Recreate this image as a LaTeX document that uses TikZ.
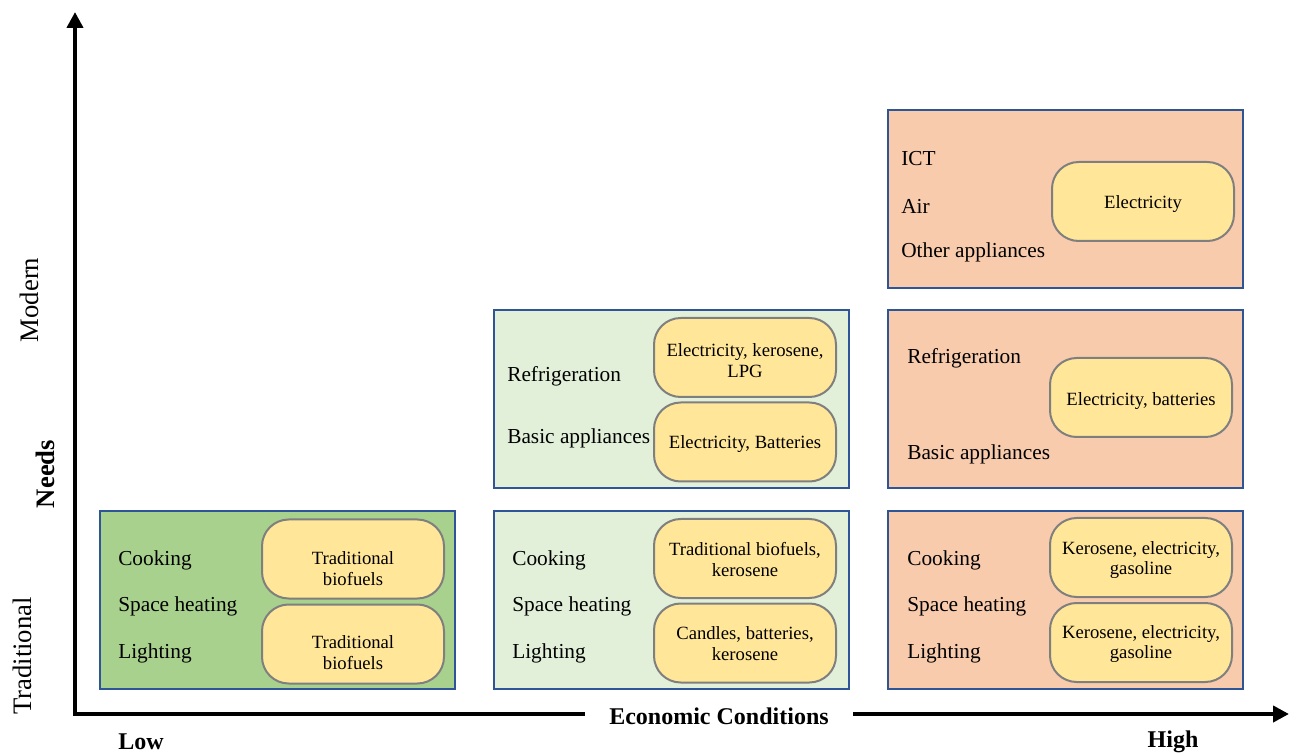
\documentclass[tikz,border=0pt]{standalone}
\usepackage{fontspec}
\setmainfont{Liberation Serif}
\usetikzlibrary{arrows.meta}
\definecolor{boxblue}{HTML}{2F5597}
\definecolor{lowgreen}{HTML}{A9D18E}
\definecolor{palegreen}{HTML}{E2F0D9}
\definecolor{salmon}{HTML}{F8CBAD}
\definecolor{fuelyellow}{HTML}{FFE699}
\definecolor{fuelgray}{HTML}{7F7F7F}
\begin{document}
\begin{tikzpicture}[x=0.75pt,y=-0.75pt,
  panel/.style={draw=boxblue, line width=1.5pt, minimum width=266.25pt,
    minimum height=133.5pt, inner sep=0pt},
  fuel/.style={draw=fuelgray, fill=fuelyellow, line width=1.5pt,
    rounded corners=20pt, minimum width=136.5pt, minimum height=59.25pt,
    inner sep=0pt},
  fueltext/.style={align=center, inner sep=0pt, font=\fontsize{14}{15.5}\selectfont},
  need/.style={anchor=west, inner sep=0pt, font=\fontsize{16}{18}\selectfont},
  axislabel/.style={font=\fontsize{18}{20}\selectfont\bfseries, inner sep=0pt},
  sidelabel/.style={rotate=90, inner sep=0pt, font=\fontsize{20}{22}\selectfont},
  axis/.style={line width=3pt, line cap=rect, -{Triangle[length=12pt,width=12pt]}}]
\useasboundingbox (0,0) rectangle (1300,755);

% axes
\coordinate (origin) at (75,714);
\coordinate (ytop) at (75,12);
\coordinate (xend) at (1289,714);
\draw[axis] (origin) -- (ytop);
\draw[axis] (origin) -- (xend);
\node[axislabel, fill=white, inner xsep=18pt, inner ysep=4pt] (econ) at (719,716) {Economic Conditions};
\node[axislabel] (low) at (141,742) {Low};
\node[axislabel] (high) at (1173,742) {High};
\node[sidelabel] (modern) at (29,300) {Modern};
\node[sidelabel, font=\fontsize{20}{22}\selectfont\bfseries] (needs) at (45,474) {Needs};
\node[sidelabel] (trad) at (22,656) {Traditional};

% low income, traditional needs
\node[panel, fill=lowgreen] (lowT) at (277.5,600) {};
\node[need] (lowT1) at (118,560) {Cooking};
\node[need] (lowT2) at (118,606) {Space heating};
\node[need] (lowT3) at (118,653) {Lighting};
\node[fuel] (lowF1) at (353,559) {};
\node[fueltext] (lowF1t) at (353,568.5) {Traditional\\biofuels};
\node[fuel] (lowF2) at (353,644) {};
\node[fueltext] (lowF2t) at (353,652.5) {Traditional\\biofuels};

% middle income, traditional needs
\node[panel, fill=palegreen] (midT) at (671.5,600) {};
\node[need] (midT1) at (512,560) {Cooking};
\node[need] (midT2) at (512,606) {Space heating};
\node[need] (midT3) at (512,653) {Lighting};
\node[fuel] (midF1) at (745,558.5) {};
\node[fueltext] (midF1t) at (745,559.5) {Traditional biofuels,\\kerosene};
\node[fuel] (midF2) at (745,643) {};
\node[fueltext] (midF2t) at (745,643.5) {Candles, batteries,\\kerosene};

% middle income, modern needs
\node[panel, fill=palegreen] (midM) at (671.5,399.5) {};
\node[need] (midM1) at (507,376) {Refrigeration};
\node[need] (midM2) at (507,438) {Basic appliances};
\node[fuel] (midF3) at (745,357.5) {};
\node[fueltext] (midF3t) at (745,360.5) {Electricity, kerosene,\\LPG};
\node[fuel] (midF4) at (745,442) {};
\node[fueltext] (midF4t) at (745,444.5) {Electricity, Batteries};

% high income, traditional needs
\node[panel, fill=salmon] (highT) at (1065.5,600) {};
\node[need] (highT1) at (907,560) {Cooking};
\node[need] (highT2) at (907,606) {Space heating};
\node[need] (highT3) at (907,653) {Lighting};
\node[fuel] (highF1) at (1141,557.5) {};
\node[fueltext] (highF1t) at (1141,560) {Kerosene, electricity,\\gasoline};
\node[fuel] (highF2) at (1141,642.5) {};
\node[fueltext] (highF2t) at (1141,644) {Kerosene, electricity,\\gasoline};

% high income, basic modern needs
\node[panel, fill=salmon] (highM) at (1065.5,399.5) {};
\node[need] (highM1) at (907,358) {Refrigeration};
\node[need] (highM2) at (907,454) {Basic appliances};
\node[fuel] (highF3) at (1141,397.5) {};
\node[fueltext] (highF3t) at (1141,401.5) {Electricity, batteries};

% high income, advanced modern needs
\node[panel, fill=salmon] (highA) at (1065.5,199.5) {};
\node[need] (highA1) at (901,159) {ICT};
\node[need] (highA2) at (901,206) {Air};
\node[need] (highA3) at (901,252) {Other appliances};
\node[fuel] (highF4) at (1143,201.5) {};
\node[fueltext] (highF4t) at (1143,204.5) {Electricity};
\end{tikzpicture}
\end{document}
